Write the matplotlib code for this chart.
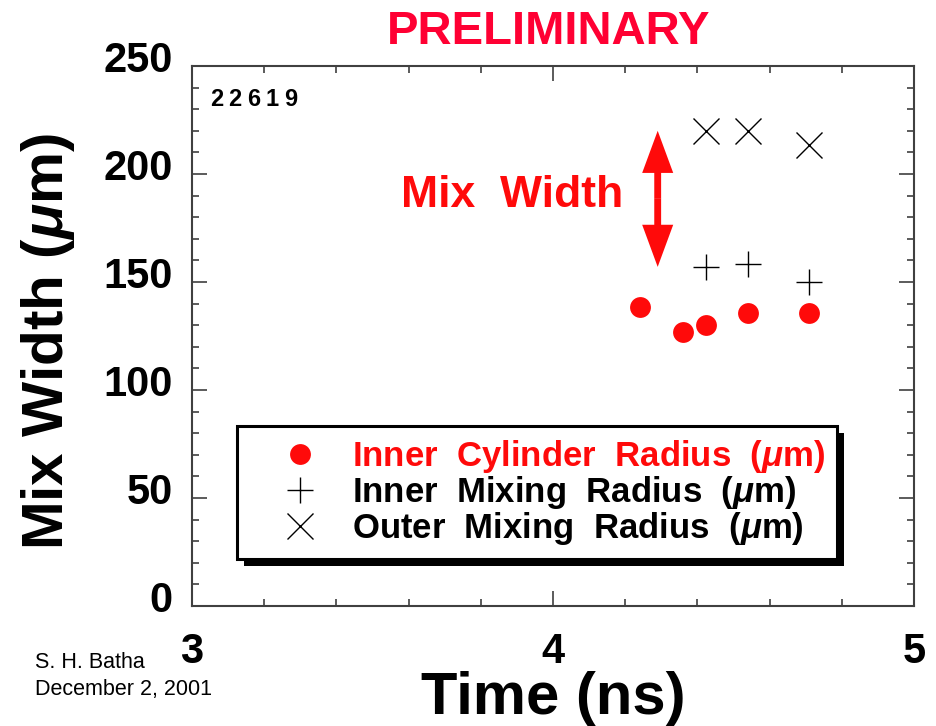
import matplotlib.pyplot as plt
import matplotlib.patheffects as pe
from matplotlib.ticker import MultipleLocator
from matplotlib.transforms import ScaledTranslation

plt.rcParams['font.family'] = ['Liberation Sans', 'DejaVu Sans']
plt.rcParams['font.weight'] = 'bold'
plt.rcParams['mathtext.fontset'] = 'custom'
plt.rcParams['mathtext.rm'] = 'Liberation Sans:bold'
plt.rcParams['mathtext.it'] = 'Liberation Sans:italic:bold'
plt.rcParams['mathtext.default'] = 'it'

# shot 22619 radii vs time
t_cyl = [4.24, 4.36, 4.425, 4.54, 4.71]
r_cyl = [138.5, 127, 130, 135.5, 135.5]
t_mix = [4.425, 4.54, 4.71]
r_inner_mix = [157, 158.5, 150]
r_outer_mix = [220, 220, 213.5]

# mix width arrow (time, inner, outer)
arrow_t = 4.29
arrow_lo = 157
arrow_hi = 220

red = '#ff0a0a'
axcol = '#404040'

fig = plt.figure(figsize=(9.36, 7.26), dpi=100)
ax = fig.add_axes([192/936, 1-606/726, 722/936, 540/726])

ax.plot(t_cyl, r_cyl, 'o', color=red, markersize=15, mec='none',
        label=r'Inner  Cylinder  Radius  ($\mu$m)')
ax.plot(t_mix, r_inner_mix, '+', color='k', markersize=19, mew=1.0,
        label=r'Inner  Mixing  Radius  ($\mu$m)')
ax.plot(t_mix, r_outer_mix, 'x', color='k', markersize=19, mew=1.0,
        label=r'Outer  Mixing  Radius  ($\mu$m)')

# double headed arrow = two arrows out from the middle
mid = (arrow_lo + arrow_hi) / 2
for end in (arrow_hi, arrow_lo):
    ax.arrow(arrow_t, mid, 0, end - mid, width=0.019, head_width=0.086,
             head_length=19.5, length_includes_head=True, color=red, lw=0)
ax.text(4.194, 190, 'Mix  Width', color=red, fontsize=32,
        fontweight='bold', ha='right', va='center')

ax.set_xlim(3, 5)
ax.set_ylim(0, 250)
ax.xaxis.set_major_locator(MultipleLocator(1))
ax.xaxis.set_minor_locator(MultipleLocator(0.2))
ax.yaxis.set_major_locator(MultipleLocator(50))
ax.yaxis.set_minor_locator(MultipleLocator(10))
ax.tick_params(which='both', direction='in', top=True, right=True,
               color=axcol, width=1.2)
ax.tick_params(which='major', length=11, labelsize=30)
ax.tick_params(which='minor', length=5)
ax.tick_params(axis='y', pad=14)
ax.tick_params(axis='x', pad=19)
for s in ax.spines.values():
    s.set_color(axcol)
    s.set_linewidth(1.5)

# y labels sit a little above their ticks
lift = ScaledTranslation(0, 0.09, fig.dpi_scale_trans)
for tk in ax.yaxis.get_major_ticks():
    tk.label1.set_transform(tk.label1.get_transform() + lift)

leg = ax.legend(loc='upper left', bbox_to_anchor=(0.062, 0.333),
                borderaxespad=0, fontsize=25, frameon=True, fancybox=False,
                edgecolor='k', framealpha=1, labelspacing=-0.03,
                handlelength=2.94, handletextpad=0.03, borderpad=0.35,
                numpoints=1)
leg.get_frame().set_linewidth(2.2)
leg.get_frame().set_path_effects([
    pe.SimplePatchShadow(offset=(5, -5), shadow_rgbFace='k', alpha=1),
    pe.Normal()])
leg.get_texts()[0].set_color(red)

# shot number, spaced out
for i, ch in enumerate('22619'):
    ax.text(0.025, 0.938, ch, fontsize=17, fontweight='bold',
            ha='left', va='center',
            transform=ax.transAxes + ScaledTranslation(i * 0.185, 0,
                                                       fig.dpi_scale_trans))

fig.text(549/936, 1-32/726, 'PRELIMINARY', color='#ff0033', fontsize=34,
         fontweight='bold', ha='center', va='center')
fig.text(48/936, 1-342/726, r'Mix Width ($\mu$m)', fontsize=42,
         fontweight='bold', rotation=90, ha='center', va='center')
fig.text(553/936, 1-698/726, 'Time (ns)', fontsize=43, fontweight='bold',
         ha='center', va='center')
fig.text(35/936, 1-662/726, 'S. H. Batha', fontsize=15.5, fontweight='normal',
         ha='left', va='center')
fig.text(35/936, 1-689/726, 'December 2, 2001', fontsize=15.5,
         fontweight='normal', ha='left', va='center')

fig.savefig('out.png', dpi=100)
